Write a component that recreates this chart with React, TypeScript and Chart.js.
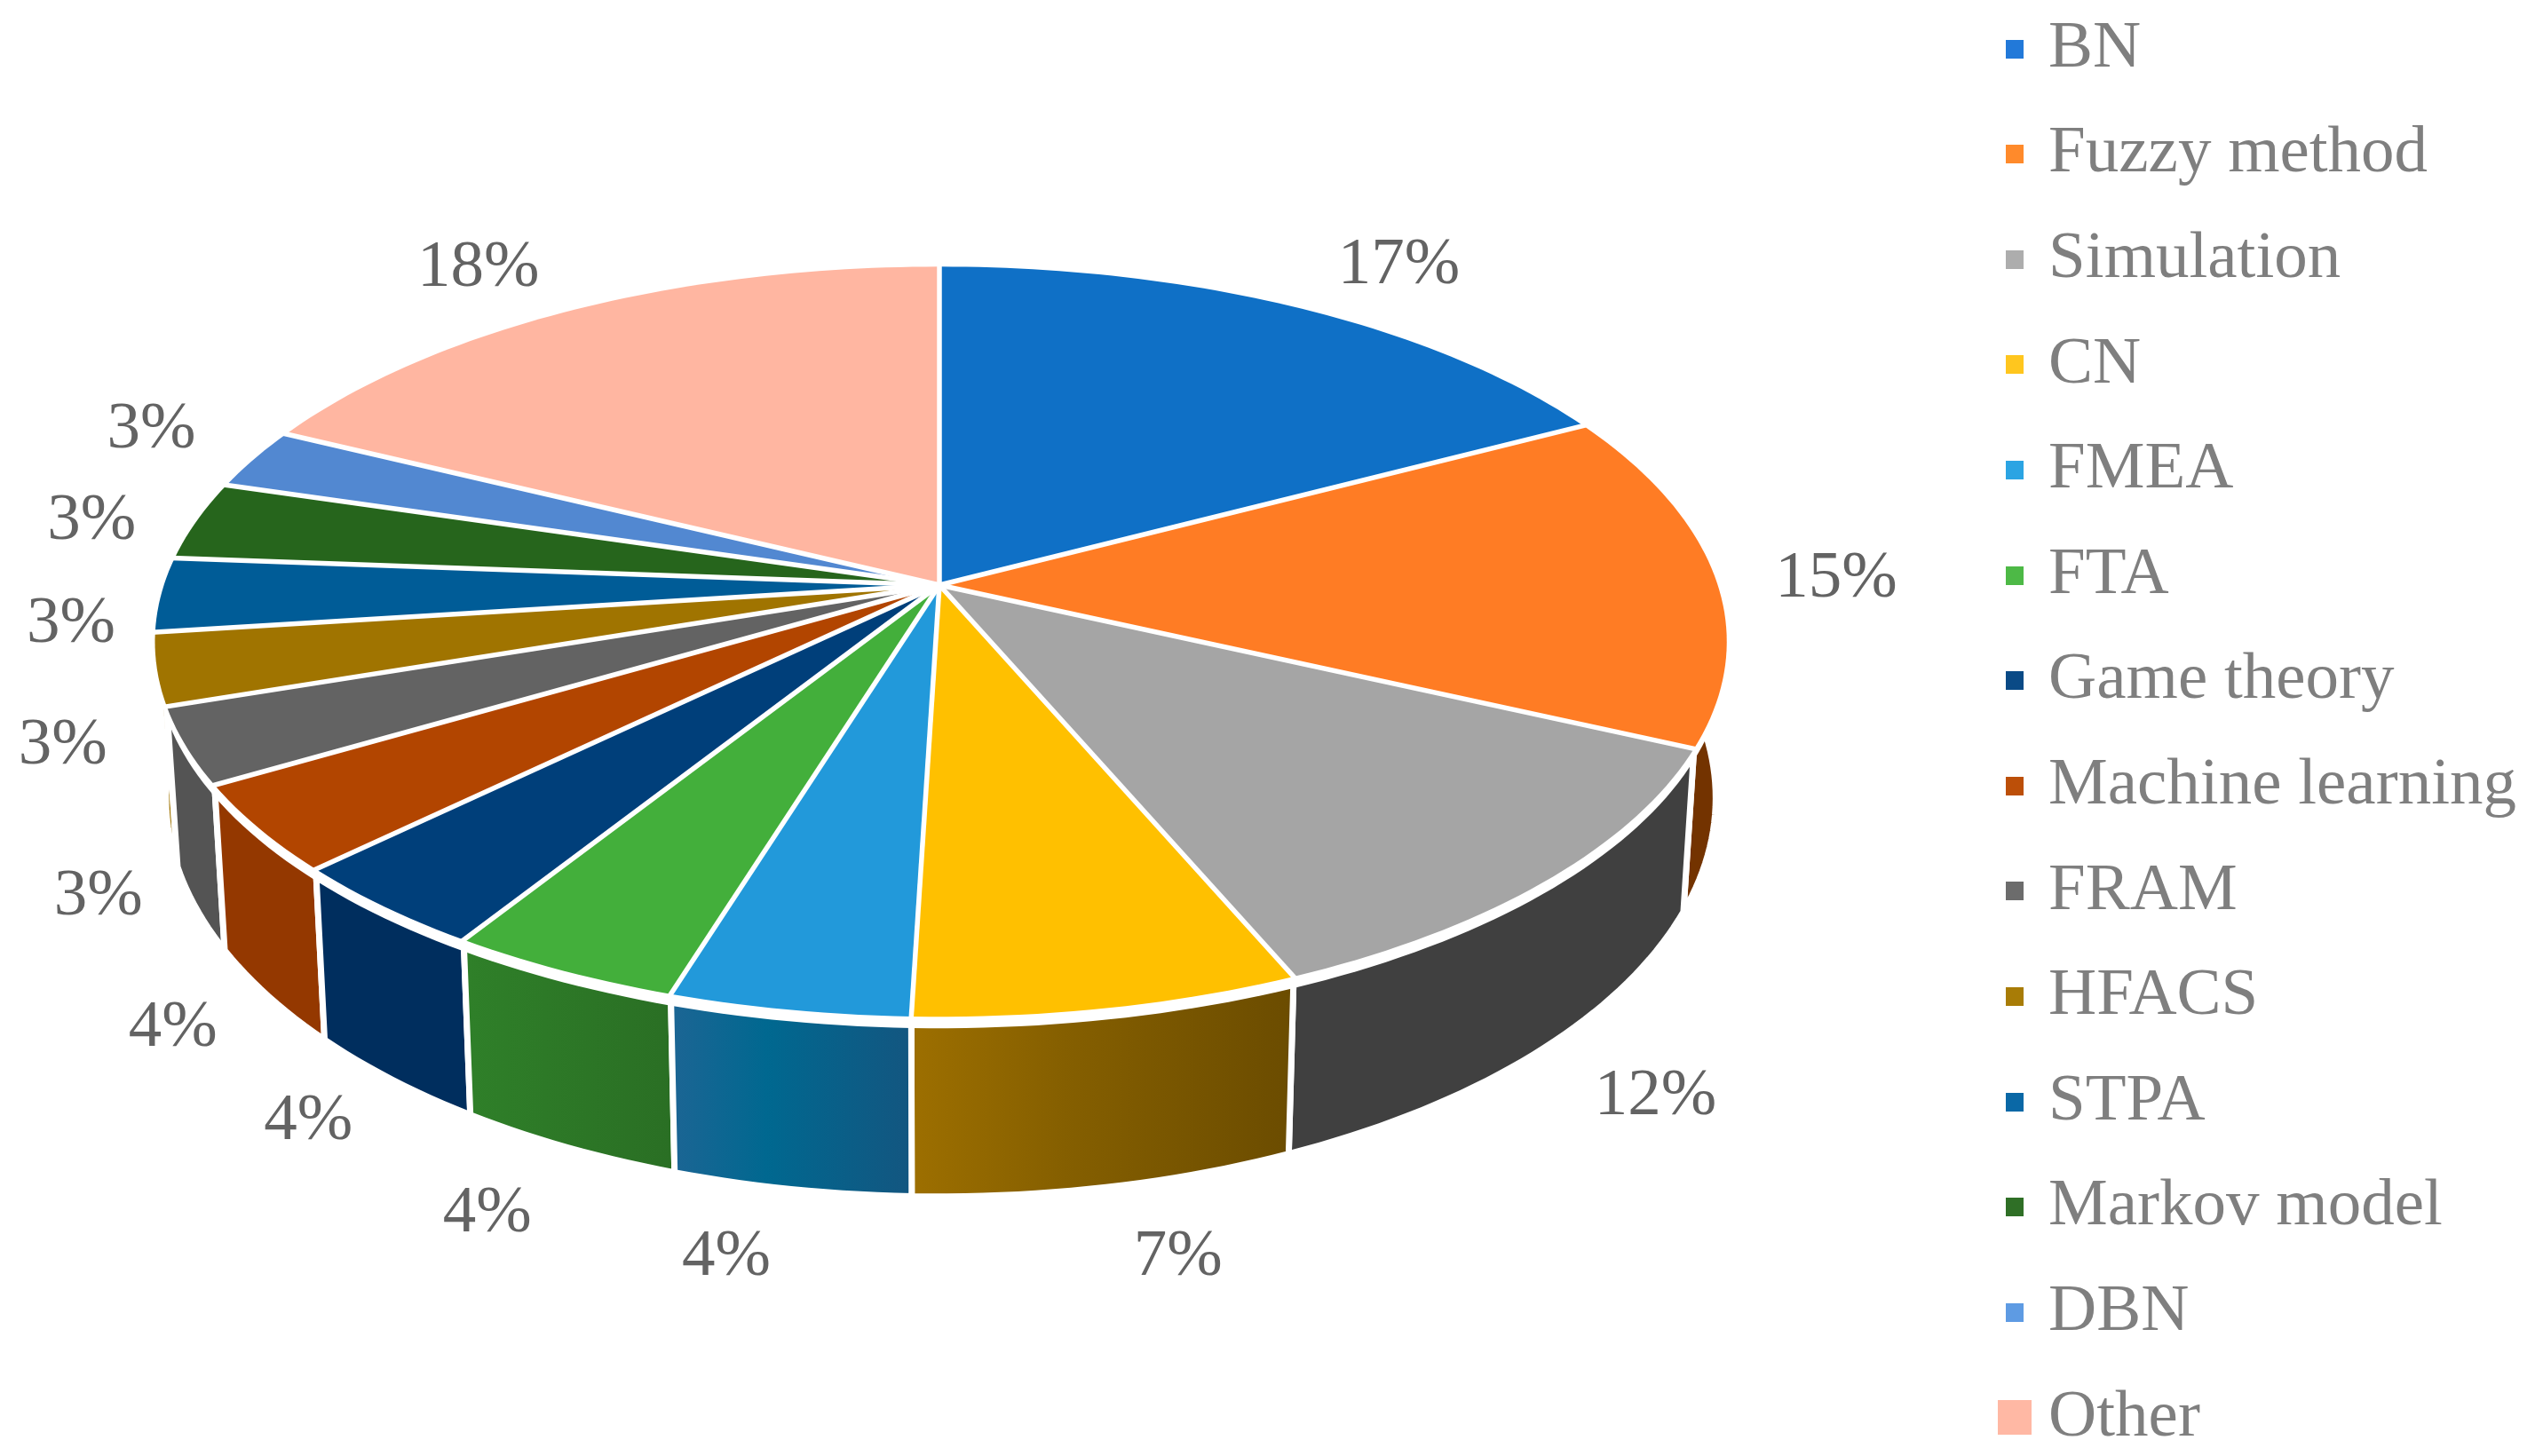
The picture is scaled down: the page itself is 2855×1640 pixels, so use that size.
import React, { useEffect, useRef } from "react";
import { Chart, registerables } from "chart.js";

Chart.register(...registerables);

// ---------- data ----------
const categories = ["BN", "Fuzzy method", "Simulation", "CN", "FMEA", "FTA", "Game theory", "Machine learning", "FRAM", "HFACS", "STPA", "Markov model", "DBN", "Other"];
const shares = [17.3, 14.57, 11.72, 6.9, 4.3, 4.2, 3.8, 3.8, 3.3, 3.1, 3.2, 3.4, 2.65, 17.76];
const shareLabels = ["17%", "15%", "12%", "7%", "4%", "4%", "4%", "4%", "3%", "3%", "3%", "3%", "3%", "18%"];

// ---------- styles ----------
const topColors = ["#0F70C6", "#FF7C24", "#A5A5A5", "#FFC000", "#2299DA", "#43AF3B", "#003F7A", "#B24500", "#636363", "#A07400", "#005C97", "#26651C", "#5288D1", "#FFB6A1"];
const wallLeft = ["#0A4A85", "#733300", "#404040", "#9D6F00", "#1C6594", "#2F8029", "#002E5E", "#943800", "#545454", "#A07400", "#004470", "#1C4C15", "#3D669C", "#BF8878"];
const wallMid = ["#0A4A85", "#733300", "#404040", "#855F00", "#006890", "#2D7927", "#002E5E", "#943800", "#545454", "#A07400", "#004470", "#1C4C15", "#3D669C", "#BF8878"];
const wallRight = ["#0A4A85", "#733300", "#404040", "#6B4C00", "#135680", "#2A6F24", "#002E5E", "#943800", "#545454", "#A07400", "#004470", "#1C4C15", "#3D669C", "#BF8878"];
const legendColors = ["#2279D9", "#FF8A2B", "#ADADAD", "#FFC61E", "#2BA4E3", "#4DB946", "#0A4A86", "#BC4F08", "#6C6C6C", "#A87C06", "#0A68A6", "#2F6F26", "#5E9BE3", "#FFB8A4"];
const legendMarkerSizes = [20, 20, 20, 20, 20, 20, 20, 20, 20, 20, 20, 20, 20, 38];
// offsets of each percentage label from its computed anchor
const labelNudgeX = [44, 22, 20, 44, -40, -9, 8, 14, 20, 13, 13, 0, 2, -36];
const labelNudgeY = [9, 5, -1, -13, -15, -7, -10, -6, -25, -14, 22, 11, -11, 9];

// ---------- layout of the perspective pie ----------
const CANVAS_TOP = -29;
const CX = 1058;
const CY = 659 - CANVAS_TOP;
const RX_RIGHT = 876.6;
const RX_LEFT = 873.4;
const RY = 412.8;
const TILT = 0.1509;
const DEPTH = 172;
const BASE_SHRINK = 0.986;
const RIM_GAP = 13;
const LEGEND_LEFT = 2225;
const LEGEND_TOP_SHIFT = 3;
const FONT = '75px "Liberation Serif"';

function topPoint(theta: number, r = 1) {
  const x = r * Math.cos(theta);
  const y = r * Math.sin(theta);
  const w = 1 - TILT * y;
  return { x: CX + ((x < 0 ? RX_LEFT : RX_RIGHT) * x) / w, y: CY + (RY * y) / w, w };
}
function basePoint(theta: number) {
  const p = topPoint(theta);
  return { x: CX + (p.x - CX) * BASE_SHRINK, y: p.y + DEPTH / p.w };
}
function sweep(a: number, b: number) {
  const n = Math.max(2, Math.ceil((b - a) / 0.02));
  const out: number[] = [];
  for (let i = 0; i <= n; i++) out.push(a + ((b - a) * i) / n);
  return out;
}

const pie3d = {
  id: "pie3d",
  afterLayout(chart: any) {
    chart.legend.left = LEGEND_LEFT;
    chart.legend.top = LEGEND_TOP_SHIFT;
  },
  beforeDatasetsDraw(chart: any) {
    const ctx = chart.ctx;
    const arcs = chart.getDatasetMeta(0).data.map((arc: any, i: number) => ({
      i,
      a: arc.startAngle,
      b: arc.endAngle,
    }));
    ctx.save();
    ctx.lineJoin = "round";

    // side walls, back to front
    const ordered = [...arcs].sort(
      (p: any, q: any) => Math.sin((p.a + p.b) / 2) - Math.sin((q.a + q.b) / 2)
    );
    for (const s of ordered) {
      const angles = sweep(s.a, s.b);
      ctx.beginPath();
      angles.forEach((t, n) => {
        const p = topPoint(t);
        if (n === 0) ctx.moveTo(p.x, p.y);
        else ctx.lineTo(p.x, p.y);
      });
      [...angles].reverse().forEach((t) => {
        const p = basePoint(t);
        ctx.lineTo(p.x, p.y);
      });
      ctx.closePath();
      const xs = angles.map((t) => topPoint(t).x);
      const g = ctx.createLinearGradient(Math.min(...xs), 0, Math.max(...xs), 0);
      g.addColorStop(0, wallLeft[s.i]);
      g.addColorStop(0.4, wallMid[s.i]);
      g.addColorStop(1, wallRight[s.i]);
      ctx.fillStyle = g;
      ctx.fill();
      ctx.strokeStyle = "#ffffff";
      ctx.lineWidth = 7;
      ctx.stroke();
    }

    // white rim between the top face and the walls: wide in front, thin at the sides
    const rim = () => {
      ctx.beginPath();
      arcs.forEach((s: any) => {
        sweep(s.a, s.b).forEach((t) => {
          const p = topPoint(t);
          ctx.lineTo(p.x, p.y);
        });
      });
      ctx.closePath();
    };
    ctx.save();
    ctx.translate(0, RIM_GAP);
    rim();
    ctx.fillStyle = "#ffffff";
    ctx.fill();
    ctx.restore();
    rim();
    ctx.strokeStyle = "#ffffff";
    ctx.lineWidth = 6;
    ctx.stroke();

    // top faces
    for (const s of arcs) {
      ctx.beginPath();
      ctx.moveTo(CX, CY);
      sweep(s.a, s.b).forEach((t) => {
        const p = topPoint(t);
        ctx.lineTo(p.x, p.y);
      });
      ctx.closePath();
      ctx.fillStyle = topColors[s.i];
      ctx.fill();
    }
    // separators
    ctx.strokeStyle = "#ffffff";
    ctx.lineWidth = 5.5;
    for (const s of arcs) {
      const p = topPoint(s.a, 1.004);
      ctx.beginPath();
      ctx.moveTo(CX, CY);
      ctx.lineTo(p.x, p.y);
      ctx.stroke();
    }
    ctx.restore();
    return false;
  },
  afterDraw(chart: any) {
    const ctx = chart.ctx;
    ctx.save();
    ctx.font = FONT;
    ctx.fillStyle = "#636363";
    ctx.textAlign = "center";
    ctx.textBaseline = "middle";
    chart.getDatasetMeta(0).data.forEach((arc: any, i: number) => {
      const mid = (arc.startAngle + arc.endAngle) / 2;
      const s = Math.sin(mid);
      const r = s < 0 ? 1.13 - 0.09 * s : 1.13 + (s > 0.8 ? 0.02 : 0);
      const p = topPoint(mid, r);
      const weight = Math.max(0, Math.min(1, s / 0.45));
      ctx.fillText(
        shareLabels[i],
        p.x + labelNudgeX[i],
        p.y + (weight * DEPTH) / p.w + labelNudgeY[i]
      );
    });
    ctx.restore();
  },
};

function marker(color: string, size: number) {
  const c = document.createElement("canvas");
  c.width = size;
  c.height = size + 1;
  const x = c.getContext("2d")!;
  x.fillStyle = color;
  x.fillRect(0, 0, c.width, c.height);
  return c;
}

export default function App() {
  const ref = useRef<HTMLCanvasElement>(null);
  useEffect(() => {
    const chart = new Chart(ref.current!, {
      type: "pie",
      data: {
        labels: categories,
        datasets: [{ data: shares, backgroundColor: topColors, borderWidth: 0 }],
      },
      plugins: [pie3d],
      options: {
        responsive: false,
        animation: false,
        devicePixelRatio: 1,
        plugins: {
          tooltip: { enabled: false },
          legend: {
            position: "right",
            align: "start",
            labels: {
              color: "#7F7F7F",
              font: { family: '"Liberation Serif"', size: 75 },
              padding: 43.6,
              usePointStyle: true,
              pointStyleWidth: 1,
              generateLabels: () =>
                categories.map((text, i) => ({
                  text,
                  index: i,
                  hidden: false,
                  fontColor: "#7F7F7F",
                  pointStyle: marker(legendColors[i], legendMarkerSizes[i]),
                })),
            },
          },
        },
      },
    } as any);
    return () => chart.destroy();
  }, []);
  return (
    <div style={{ position: "absolute", left: 0, top: 0, width: 2855, height: 1640, overflow: "hidden", background: "#fff" }}>
      <canvas ref={ref} width={2855} height={1900} style={{ position: "absolute", left: 0, top: CANVAS_TOP, display: "block" }} />
    </div>
  );
}
